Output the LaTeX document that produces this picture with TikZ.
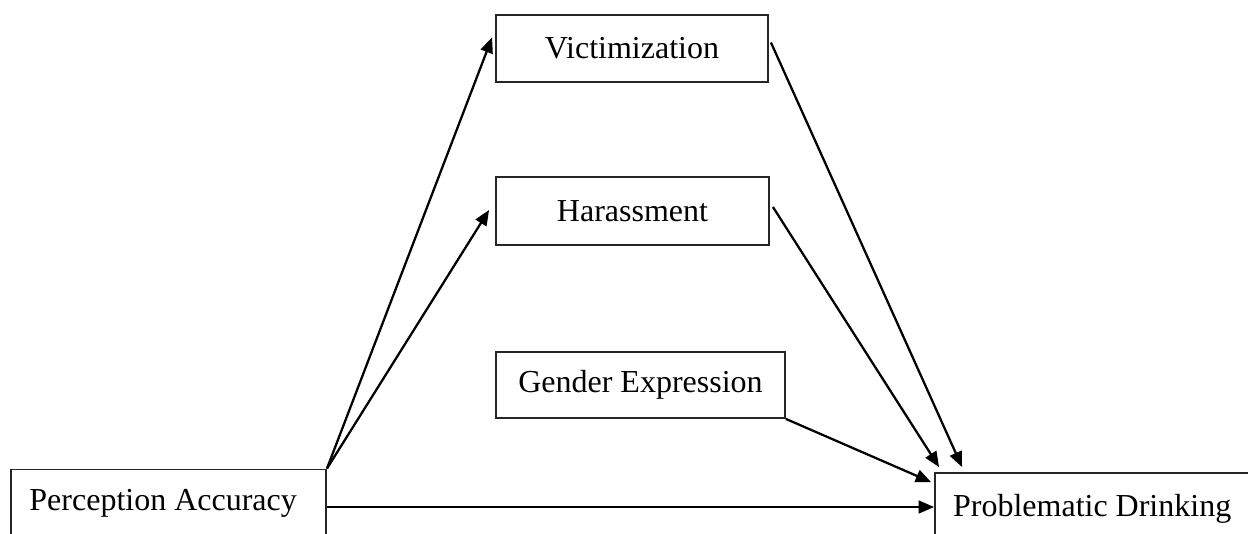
\documentclass[tikz,border=0pt]{standalone}
\usepackage{fontspec}
\setmainfont{Liberation Serif}
\usetikzlibrary{arrows.meta,calc}
\begin{document}
\begin{tikzpicture}[x=0.75pt,y=-0.75pt,
  box/.style={draw=black!85,line width=1.4pt,fill=white,inner sep=0pt,
    font=\fontsize{24}{28}\selectfont},
  arr/.style={line width=1.7pt,-{Triangle[length=11.5pt,width=9.5pt]}}]
\clip (0,0) rectangle (1248,533);
\fill[white] (0,0) rectangle (1248,533);
\node[box,minimum width=204pt,minimum height=50.25pt] (vic) at (632,48.5) {Victimization};
\node[box,minimum width=204.75pt,minimum height=51pt] (har) at (632.5,211) {Harassment};
\node[box,minimum width=216.75pt,minimum height=49.5pt] (gen) at (640.5,385) {Gender Expression};
\node[box,minimum width=236.25pt,minimum height=57pt] (pa) at (168.5,507.5) {\hspace*{-8pt}\raisebox{12pt}{Perception Accuracy}};
\node[box,minimum width=243.75pt,minimum height=57pt] (pd) at (1097.5,511) {\hspace*{-8pt}\raisebox{9pt}{Problematic Drinking}};
\coordinate (vicin) at ($(vic.west)+(-3,-11)$);
\coordinate (harin) at ($(har.west)+(-6,-1)$);
\draw[arr] (pa.north east) -- (vicin);
\draw[arr] (pa.north east) -- (harin);
\draw[arr] (pa.east |- 0,507) -- (pd.west |- 0,507);
\draw[arr] ($(vic.east)+(2,-6)$) -- ($(pd.north west)+(28,-5)$);
\draw[arr] ($(har.east)+(3,-4)$) -- ($(pd.north west)+(5,-5)$);
\draw[arr] (gen.south east) -- ($(pd.north west)+(-3,10)$);
\end{tikzpicture}
\end{document}
